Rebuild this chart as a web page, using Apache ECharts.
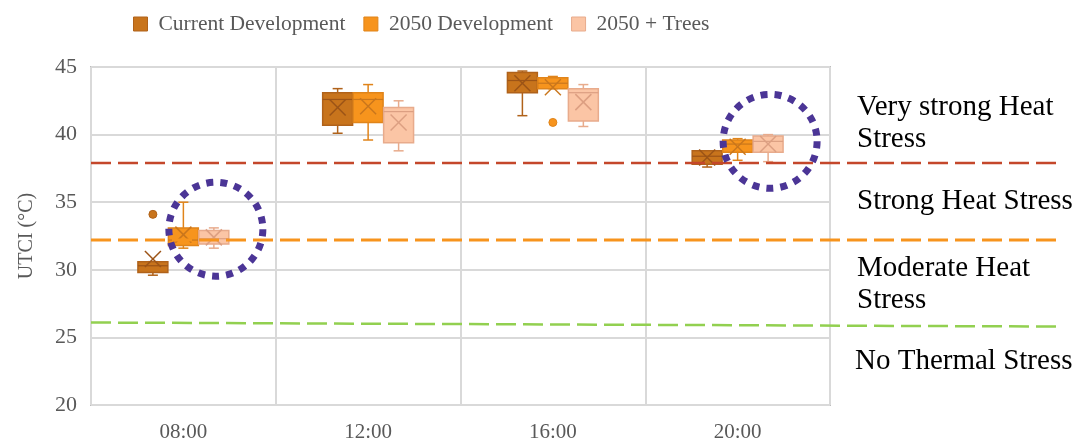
<!DOCTYPE html>
<html>
<head>
<meta charset="utf-8">
<script src="https://cdn.jsdelivr.net/npm/echarts@6/dist/echarts.min.js"></script>
<style>
  html, body { margin: 0; background: #fff; }
  #chart { width: 1081px; height: 444px; }
</style>
</head>
<body>
<div id="chart"></div>
<script>
// categories (time of day)
const categories = ['08:00', '12:00', '16:00', '20:00']

// box stats per category: [min, q1, median, q3, max]
const currentStats = [
  [29.6, 29.8, 30.3, 30.6, 30.6],
  [40.1, 40.7, 42.6, 43.1, 43.4],
  [41.4, 43.1, 44.0, 44.6, 44.7],
  [37.6, 37.8, 38.4, 38.8, 38.8],
]
const devStats = [
  [31.6, 31.8, 32.2, 33.1, 35.0],
  [39.6, 40.9, 42.6, 43.1, 43.7],
  [43.4, 43.4, 43.8, 44.2, 44.3],
  [38.1, 38.7, 39.3, 39.6, 39.7],
]
const treesStats = [
  [31.6, 31.9, 32.3, 32.9, 33.1],
  [38.8, 39.4, 41.7, 42.0, 42.5],
  [40.6, 41.0, 43.1, 43.4, 43.7],
  [38.0, 38.7, 39.5, 39.9, 40.0],
]

// means (the X marks)
const currentMean = [30.8, 42.0, 43.8, 38.3]
const devMean = [32.6, 42.1, 43.5, 39.1]
const treesMean = [32.4, 40.9, 42.4, 39.3]

// outliers: [category index, value]
const currentOutliers = [[0, 34.1]]
const devOutliers = [[2, 40.9]]

// circled results: [category index, value] around the 2050 + Trees box
const circled = [[0, 33.0], [3, 39.5]]

// heat stress thresholds (value at left edge, value at right edge)
const thresholdNames = ['very strong', 'strong', 'moderate']
const thresholdStart = [37.9, 32.2, 26.1]
const thresholdEnd = [37.9, 32.2, 25.8]
const thresholdColors = ['#c4472b', '#f7941d', '#92d050']

const SERIF = '"Liberation Serif", "Times New Roman", serif'
const SLOT = 0.165 // distance between box centres, fraction of band
const BOX = 0.162  // box width, fraction of band

const STYLES = [
  { fill: '#c8741c', border: '#b0621a', mark: '#9c5417' },
  { fill: '#f7941d', border: '#e0841a', mark: '#c9761c' },
  { fill: '#fbc5a5', border: '#e8ab8c', mark: '#dc9f82' },
]

function boxRenderer(slot) {
  const c = STYLES[slot]
  return function (params, api) {
    const cat = api.value(0)
    const band = api.size([1, 0])[0]
    const cx = api.coord([cat, 0])[0] + (slot - 1) * band * SLOT
    const half = band * BOX / 2
    const y = i => api.coord([cat, api.value(i)])[1]
    const yMin = y(1), yQ1 = y(2), yMed = y(3), yQ3 = y(4), yMax = y(5), yMean = y(6)
    const cap = 5
    const xs = 8
    const ln = (x1, y1, x2, y2, color, w) => ({
      type: 'line', shape: { x1, y1, x2, y2 }, style: { stroke: color, lineWidth: w || 1.5 },
    })
    return {
      type: 'group',
      children: [
        ln(cx, yMax, cx, yQ3, c.border),
        ln(cx, yQ1, cx, yMin, c.border),
        ln(cx - cap, yMax, cx + cap, yMax, c.border),
        ln(cx - cap, yMin, cx + cap, yMin, c.border),
        {
          type: 'rect',
          shape: { x: cx - half, y: yQ3, width: half * 2, height: Math.max(yQ1 - yQ3, 1) },
          style: { fill: c.fill, stroke: c.border, lineWidth: 1.5 },
        },
        ln(cx - half, yMed, cx + half, yMed, c.mark, 1.2),
        ln(cx - xs, yMean - xs, cx + xs, yMean + xs, c.mark, 1.5),
        ln(cx - xs, yMean + xs, cx + xs, yMean - xs, c.mark, 1.5),
      ],
    }
  }
}

function pointRenderer(slot) {
  const c = STYLES[slot]
  return function (params, api) {
    const cat = api.value(0)
    const band = api.size([1, 0])[0]
    const p = api.coord([cat, api.value(1)])
    return {
      type: 'circle',
      shape: { cx: p[0] + (slot - 1) * band * SLOT, cy: p[1], r: 4 },
      style: { fill: c.fill, stroke: c.border, lineWidth: 1 },
    }
  }
}

function circleRenderer(params, api) {
  const cat = api.value(0)
  const band = api.size([1, 0])[0]
  const p = api.coord([cat, api.value(1)])
  return {
    type: 'circle',
    shape: { cx: p[0] + band * SLOT + 2, cy: p[1], r: 47 },
    style: { fill: 'none', stroke: '#4b3596', lineWidth: 7, lineDash: [7, 7.1] },
    z2: 10,
  }
}

function boxData(stats, mean) {
  return stats.map((s, i) => [i, ...s, mean[i]])
}

const chart = echarts.init(document.getElementById('chart'))

const seriesNames = ['Current Development', '2050 Development', '2050 + Trees']
const allStats = [[currentStats, currentMean], [devStats, devMean], [treesStats, treesMean]]

const series = allStats.map(([stats, mean], i) => ({
  name: seriesNames[i],
  type: 'custom',
  xAxisIndex: 0,
  yAxisIndex: 0,
  renderItem: boxRenderer(i),
  itemStyle: { color: STYLES[i].fill, borderColor: STYLES[i].border },
  encode: { x: 0, y: [1, 2, 3, 4, 5, 6] },
  data: boxData(stats, mean),
  z: 2,
}))

series.push(
  { type: 'custom', renderItem: pointRenderer(0), encode: { x: 0, y: 1 }, data: currentOutliers, z: 2 },
  { type: 'custom', renderItem: pointRenderer(1), encode: { x: 0, y: 1 }, data: devOutliers, z: 2 },
)

thresholdNames.forEach((name, i) => {
  series.push({
    type: 'line',
    xAxisIndex: 1,
    yAxisIndex: 1,
    symbol: 'none',
    silent: true,
    lineStyle: { color: thresholdColors[i], width: i === 1 ? 3 : 2.5, type: [20, 7] },
    data: [[0, thresholdStart[i]], [1, thresholdEnd[i]]],
    z: 4,
  })
})

series.push({
  type: 'custom',
  renderItem: circleRenderer,
  encode: { x: 0, y: 1 },
  data: circled,
  z: 5,
})

const labelFont = '29px ' + SERIF

chart.setOption({
  backgroundColor: '#fff',
  animation: false,
  legend: {
    data: seriesNames.map((n, i) => ({
      name: n,
      itemStyle: { color: STYLES[i].fill, borderColor: STYLES[i].border, borderWidth: 1 },
    })),
    icon: 'rect',
    left: 128,
    top: 8,
    itemWidth: 14,
    itemHeight: 14,
    itemGap: 18,
    textStyle: { fontFamily: SERIF, fontSize: 21.5, color: '#595959', padding: [0, 0, 0, 6] },
  },
  grid: [
    { left: 91, right: 251, top: 67, bottom: 39, show: true, borderColor: '#bdbdbd', borderWidth: 2 },
    { left: 91, right: 18, top: 67, bottom: 39 },
  ],
  xAxis: [
    {
      type: 'category',
      gridIndex: 0,
      data: categories,
      axisLine: { show: false },
      axisTick: { show: false },
      splitLine: { show: true, lineStyle: { color: '#d9d9d9', width: 2 } },
      axisLabel: { fontFamily: SERIF, fontSize: 21, color: '#595959', margin: 17 },
    },
    { type: 'value', gridIndex: 1, min: 0, max: 1, show: false },
  ],
  yAxis: [
    {
      type: 'value',
      gridIndex: 0,
      min: 20,
      max: 45,
      interval: 5,
      name: 'UTCI (°C)',
      nameLocation: 'middle',
      nameGap: 54,
      nameRotate: 90,
      nameTextStyle: { fontFamily: SERIF, fontSize: 20, color: '#595959' },
      axisLine: { show: false },
      axisTick: { show: false },
      splitLine: { lineStyle: { color: '#d9d9d9', width: 2 } },
      axisLabel: { fontFamily: SERIF, fontSize: 22, color: '#595959', margin: 14 },
    },
    { type: 'value', gridIndex: 1, min: 20, max: 45, show: false },
  ],
  graphic: [
    { type: 'text', left: 857, top: 91, style: { text: 'Very strong Heat\nStress', font: labelFont, lineHeight: 32, fill: '#000' } },
    { type: 'text', left: 857, top: 187, style: { text: 'Strong Heat Stress', font: labelFont, fill: '#000' } },
    { type: 'text', left: 857, top: 252, style: { text: 'Moderate Heat\nStress', font: labelFont, lineHeight: 32, fill: '#000' } },
    { type: 'text', left: 855, top: 347, style: { text: 'No Thermal Stress', font: labelFont, fill: '#000' } },
  ],
  series,
})
</script>
</body>
</html>
